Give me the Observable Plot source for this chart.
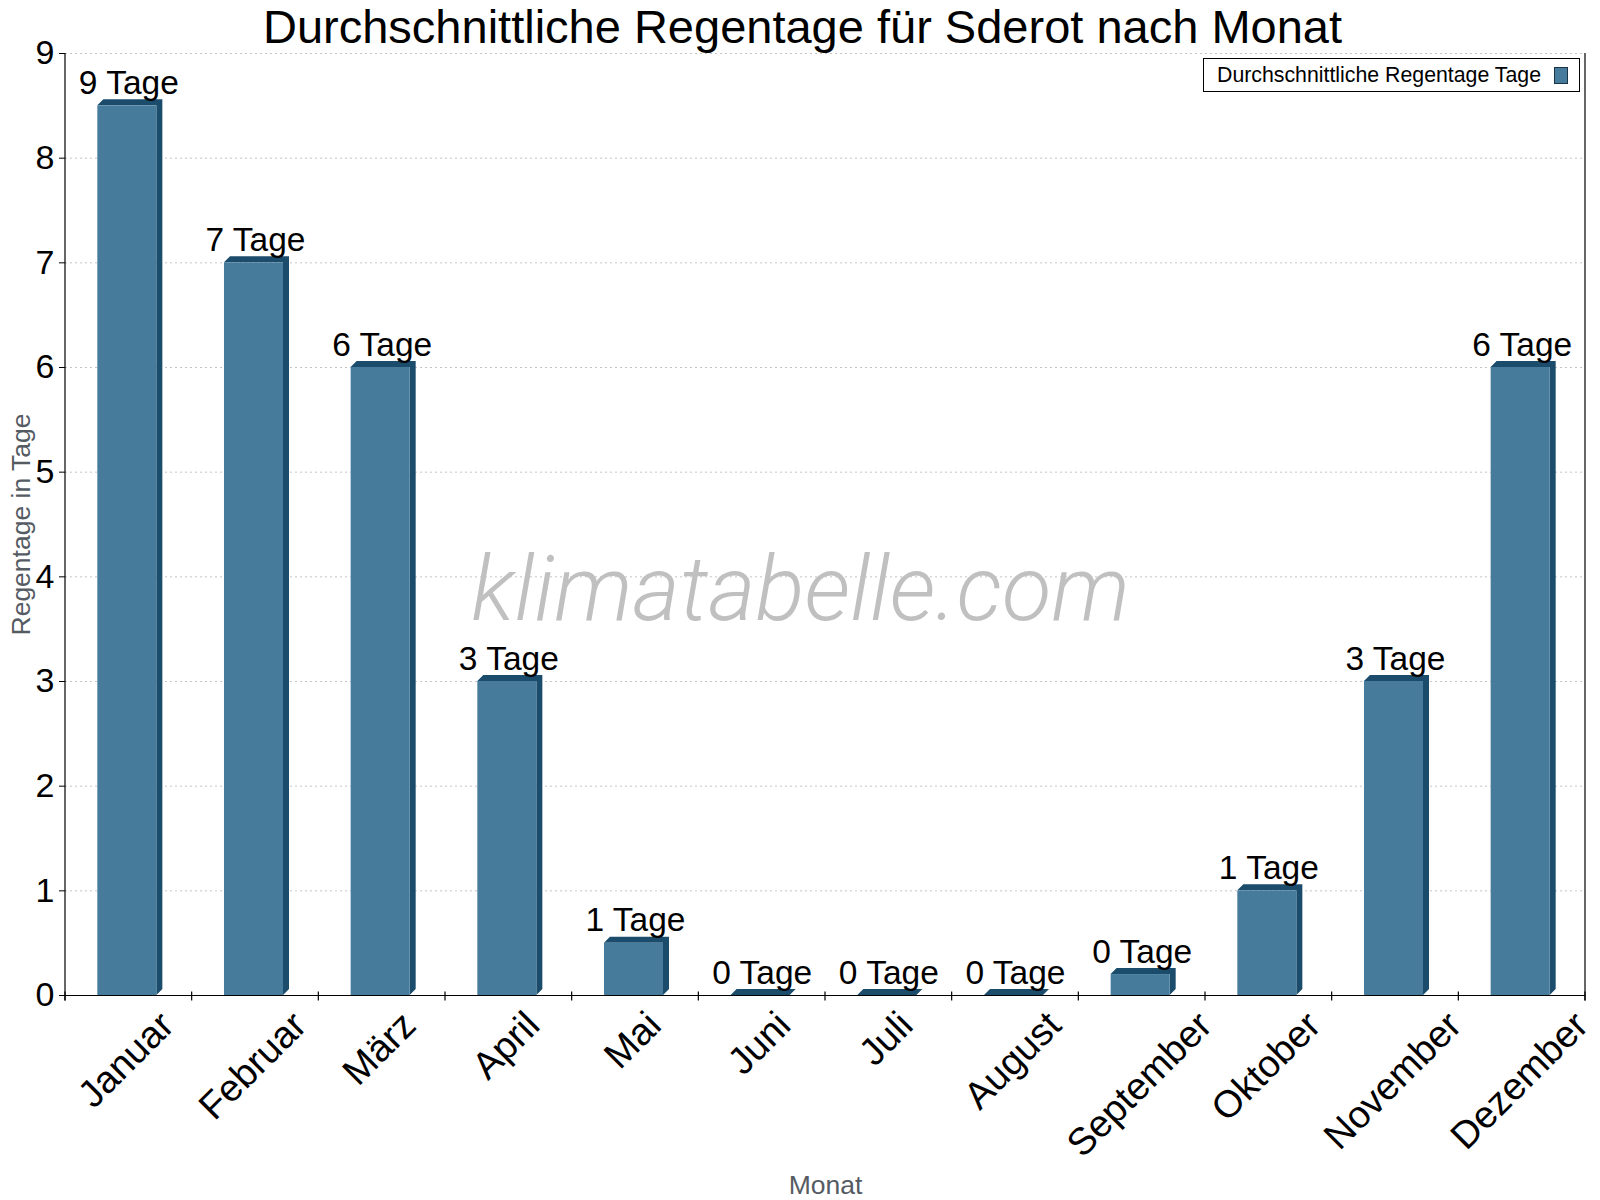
<!DOCTYPE html>
<html>
<head>
<meta charset="utf-8">
<script src="https://cdn.jsdelivr.net/npm/d3@7"></script>
<script src="https://cdn.jsdelivr.net/npm/@observablehq/plot@0.6"></script>
<style>
  html, body { margin: 0; padding: 0; background: #fff; }
  #chart svg { display: block; }
</style>
</head>
<body>
<div id="chart"></div>
<script>
// ---- data ----
const months = ["Januar", "Februar", "März", "April", "Mai", "Juni", "Juli", "August", "September", "Oktober", "November", "Dezember"];
const rainDays = [8.5, 7.0, 6.0, 3.0, 0.5, 0.0, 0.0, 0.0, 0.2, 1.0, 3.0, 6.0];
const valueLabels = ["9 Tage", "7 Tage", "6 Tage", "3 Tage", "1 Tage", "0 Tage", "0 Tage", "0 Tage", "0 Tage", "1 Tage", "3 Tage", "6 Tage"];
const yTicks = [0, 1, 2, 3, 4, 5, 6, 7, 8, 9];
const titleText = "Durchschnittliche Regentage für Sderot nach Monat";
const yLabelText = "Regentage in Tage";
const xLabelText = "Monat";
const legendText = "Durchschnittliche Regentage Tage";
const watermarkText = "klimatabelle.com";

// ---- style ----
const FONT = "'Liberation Sans', Arial, Helvetica, sans-serif";
const FRONT = "#467b9c";
const DARK = "#1b4c6c";
const DEPTH = 6;
const BAR_DX = -1.5;
const MONTH_FS = 38;

const data = months.map((m, i) => ({month: m, value: rainDays[i], label: valueLabels[i]}));

// measure text widths for rotated month labels
const ctx = document.createElement("canvas").getContext("2d");
ctx.font = MONTH_FS + "px " + FONT;
const monthWidth = months.map(m => ctx.measureText(m).width);

// 3D top + side faces, drawn with Plot's own scales
function faces(index, scales) {
  const x = scales.x, y = scales.y;
  const bw = x.bandwidth();
  const g = d3.create("svg:g").attr("fill", DARK);
  for (const d of data) {
    const x0 = x(d.month) + BAR_DX, x1 = x0 + bw;
    const yt = y(d.value), yb = y(0);
    g.append("path").attr("d",
      `M${x0},${yt}L${x0 + DEPTH},${yt - DEPTH}L${x1 + DEPTH},${yt - DEPTH}L${x1 + DEPTH},${yb - DEPTH}L${x1},${yb}L${x1},${yt}Z`);
  }
  return g.node();
}

// axis lines and category-boundary ticks
function frameLines(index, scales, values, dims) {
  const x = scales.x, y = scales.y;
  const bw = x.bandwidth(), step = x.step();
  const top = y(9), bottom = y(0);
  const g = d3.create("svg:g").attr("stroke", "#000").attr("stroke-width", 1.2).attr("fill", "none");
  const bounds = months.map(m => x(m) + bw / 2 - step / 2);
  bounds.push(x(months[months.length - 1]) + bw / 2 + step / 2);
  g.append("line").attr("x1", bounds[0]).attr("x2", bounds[0]).attr("y1", top).attr("y2", bottom + 5.5);
  g.append("line").attr("x1", bounds[12]).attr("x2", bounds[12]).attr("y1", top).attr("y2", bottom + 5.5);
  g.append("line").attr("x1", bounds[0]).attr("x2", bounds[12]).attr("y1", bottom + 0.5).attr("y2", bottom + 0.5);
  for (const b of bounds) {
    g.append("line").attr("x1", b).attr("x2", b).attr("y1", bottom - 3.5).attr("y2", bottom + 5.5);
  }
  return g.node();
}

function legend() {
  const g = d3.create("svg:g").attr("text-anchor", "start");
  g.append("rect").attr("x", 1203.5).attr("y", 58.5).attr("width", 376).attr("height", 33)
    .attr("fill", "#fff").attr("stroke", "#000").attr("stroke-width", 1);
  g.append("text").attr("x", 1217).attr("y", 82).attr("font-size", 21.3).attr("font-family", FONT)
    .attr("text-anchor", "start").attr("fill", "#000").text(legendText);
  g.append("rect").attr("x", 1554.5).attr("y", 67.5).attr("width", 13).attr("height", 16)
    .attr("fill", FRONT).attr("stroke", "#1a3346").attr("stroke-width", 1);
  return g.node();
}

const monthLabelMarks = months.map((m, i) => Plot.text([m], {
  x: d => d,
  frameAnchor: "bottom",
  rotate: -45,
  textAnchor: "middle",
  lineAnchor: "bottom",
  fontSize: MONTH_FS,
  fill: "#000",
  dx: 6,
  dy: 32 + 0.354 * monthWidth[i]
}));

const chart = Plot.plot({
  width: 1600,
  height: 1200,
  marginTop: 53,
  marginRight: 15,
  marginBottom: 205,
  marginLeft: 65,
  style: {fontFamily: FONT, background: "#fff", color: "#000", overflow: "visible"},
  x: {domain: months, paddingInner: 0.534, paddingOuter: 0.267, round: false, axis: null},
  y: {domain: [0, 9], axis: null},
  marks: [
    Plot.gridY(yTicks.slice(1), {stroke: "#c4c4c4", strokeOpacity: 1, strokeDasharray: "2,3"}),
    Plot.text([watermarkText], {
      frameAnchor: "middle", textAnchor: "middle", dx: -25, dy: 95, lineAnchor: "bottom",
      fontSize: 91, fontStyle: "italic", fontWeight: 300,
      fontFamily: "Roboto, 'Liberation Sans', sans-serif", fill: "#c0c0c0"
    }),
    faces,
    Plot.barY(data, {x: "month", y: "value", fill: FRONT, dx: BAR_DX}),
    frameLines,
    Plot.axisY({ticks: yTicks, tickSize: 6, tickPadding: 5, fontSize: 34, label: null, tickFormat: d => String(d)}),
    Plot.text(data, {x: "month", y: "value", text: "label", dy: -12, lineAnchor: "bottom", fontSize: 33.5, fill: "#000"}),
    ...monthLabelMarks,
    Plot.text([yLabelText], {frameAnchor: "left", textAnchor: "middle", lineAnchor: "middle", dx: -44, rotate: -90, fontSize: 26.5, fill: "#555b63"}),
    Plot.text([xLabelText], {frameAnchor: "bottom", textAnchor: "middle", dy: 198, lineAnchor: "bottom", fontSize: 26.5, fill: "#555b63"}),
    Plot.text([titleText], {frameAnchor: "top", textAnchor: "middle", dx: -23, dy: -11, lineAnchor: "bottom", fontSize: 47, fill: "#000"}),
    legend
  ]
});

document.getElementById("chart").appendChild(chart);
</script>
</body>
</html>
